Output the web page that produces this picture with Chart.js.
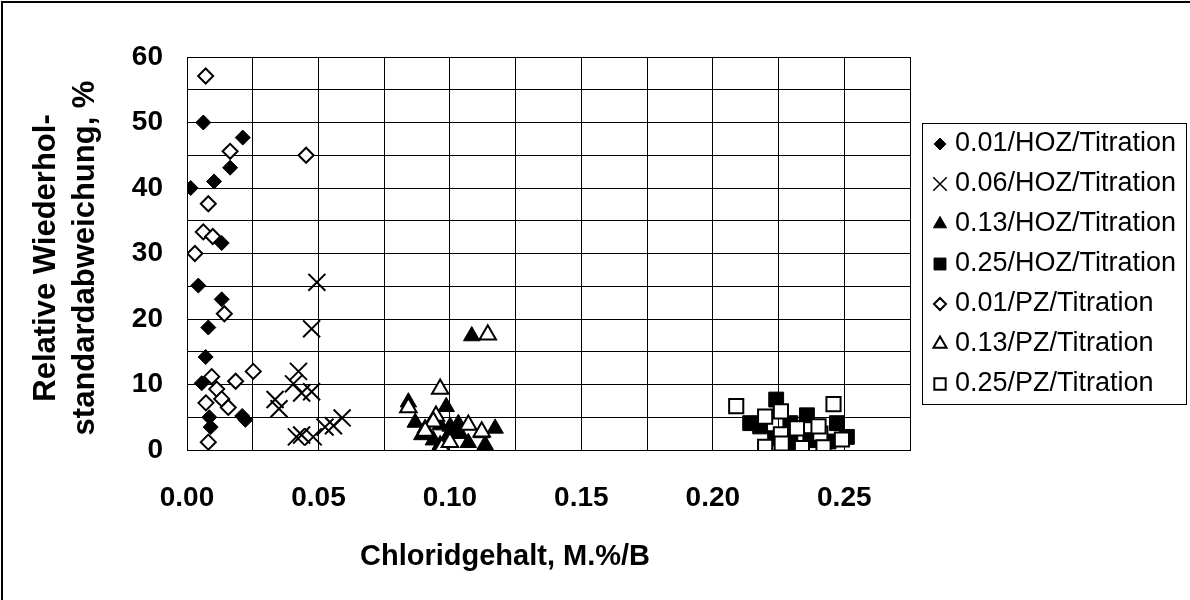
<!DOCTYPE html>
<html>
<head>
<meta charset="utf-8">
<script src="https://cdn.jsdelivr.net/npm/chart.js@4/dist/chart.umd.min.js"></script>
<style>
  html, body { margin: 0; padding: 0; background: #fff; }
  #wrap { width: 1190px; height: 600px; position: relative; }
</style>
</head>
<body>
<div id="wrap"><canvas id="chart" width="1190" height="600"></canvas></div>
<script>
const seriesNames = [
  '0.01/HOZ/Titration', '0.06/HOZ/Titration', '0.13/HOZ/Titration', '0.25/HOZ/Titration',
  '0.01/PZ/Titration', '0.13/PZ/Titration', '0.25/PZ/Titration'
];

const xTickLabels = ['0.00', '0.05', '0.10', '0.15', '0.20', '0.25'];
const yTickLabels = ['0', '10', '20', '30', '40', '50', '60'];

// 0.01/HOZ/Titration
const hoz001X = [0.0014, 0.0062, 0.0212, 0.0164, 0.0103, 0.0132, 0.0043, 0.0132, 0.0081, 0.0071, 0.0056, 0.0085, 0.0090, 0.0210, 0.0222];
const hoz001Y = [40.0, 50.0, 47.7, 43.1, 41.0, 31.6, 25.1, 23.0, 18.7, 14.2, 10.2, 5.0, 3.5, 5.2, 4.6];
// 0.06/HOZ/Titration
const hoz006X = [0.0494, 0.0474, 0.0424, 0.0405, 0.0436, 0.0474, 0.0335, 0.0350, 0.0416, 0.0436, 0.0480, 0.0525, 0.0557, 0.0590];
const hoz006Y = [25.6, 18.5, 12.0, 10.1, 8.7, 8.9, 7.7, 6.3, 2.0, 2.3, 2.0, 3.5, 3.7, 4.9];
// 0.13/HOZ/Titration
const hoz013X = [0.1083, 0.0842, 0.0986, 0.0868, 0.0906, 0.0893, 0.0963, 0.1001, 0.1032, 0.1039, 0.1121, 0.1172, 0.1070, 0.1134, 0.0937, 0.0963, 0.0988, 0.1007];
const hoz013Y = [17.4, 7.3, 6.6, 4.2, 3.3, 2.3, 3.8, 3.6, 4.0, 2.5, 2.6, 3.3, 1.1, 0.8, 1.5, 0.8, 1.8, 2.5];
// 0.25/HOZ/Titration
const hoz025X = [0.2241, 0.2142, 0.2180, 0.2358, 0.2472, 0.2295, 0.2237, 0.2295, 0.2371, 0.2510, 0.2440];
const hoz025Y = [7.7, 4.1, 3.6, 5.3, 4.1, 4.1, 1.8, 1.0, 1.5, 2.0, 1.3];
// 0.01/PZ/Titration
const pz001X = [0.0071, 0.0164, 0.0453, 0.0081, 0.0062, 0.0098, 0.0030, 0.0142, 0.0094, 0.0185, 0.0252, 0.0113, 0.0072, 0.0132, 0.0157, 0.0081];
const pz001Y = [57.1, 45.6, 45.0, 37.6, 33.3, 32.6, 30.0, 20.8, 11.2, 10.5, 12.0, 9.3, 7.2, 7.8, 6.5, 1.2];
// 0.13/PZ/Titration
const pz013X = [0.1144, 0.0963, 0.0842, 0.0947, 0.0937, 0.0906, 0.1070, 0.1121, 0.0969, 0.1000];
const pz013Y = [17.6, 9.3, 6.5, 5.2, 4.3, 2.9, 3.8, 2.8, 0.3, 1.2];
// 0.25/PZ/Titration
const pz025X = [0.2089, 0.2459, 0.2199, 0.2259, 0.2320, 0.2409, 0.2259, 0.2199, 0.2262, 0.2339, 0.2421, 0.2491, 0.2402];
const pz025Y = [6.7, 7.0, 5.1, 5.9, 3.3, 2.5, 2.4, 0.5, 1.0, 0.3, 0.4, 1.6, 3.6];

const pts = (xs, ys) => xs.map((x, i) => ({ x: x, y: ys[i] }));

const markers = [
  { style: 'rectRot', r: 7.5, fill: '#000', bw: 1 },
  { style: 'crossRot', r: 12, fill: '#000', bw: 2 },
  { style: 'triangle', r: 9.5, fill: '#000', bw: 1 },
  { style: 'rect', r: 10.5, fill: '#000', bw: 1 },
  { style: 'rectRot', r: 7.5, fill: '#fff', bw: 2 },
  { style: 'triangle', r: 9.5, fill: '#fff', bw: 2 },
  { style: 'rect', r: 10, fill: '#fff', bw: 2 }
];

const seriesData = [
  pts(hoz001X, hoz001Y), pts(hoz006X, hoz006Y), pts(hoz013X, hoz013Y), pts(hoz025X, hoz025Y),
  pts(pz001X, pz001Y), pts(pz013X, pz013Y), pts(pz025X, pz025Y)
];

const datasets = seriesNames.map((name, i) => ({
  label: name,
  data: seriesData[i],
  pointStyle: markers[i].style,
  pointRadius: markers[i].r,
  pointHoverRadius: markers[i].r,
  pointBorderWidth: markers[i].bw,
  pointBackgroundColor: markers[i].fill,
  pointBorderColor: '#000',
  order: seriesNames.length - i
}));

const FONT = '"Liberation Sans", Arial, sans-serif';

function drawMarker(ctx, m, x, y, k) {
  const r = m.r * k;
  ctx.save();
  ctx.fillStyle = m.fill;
  ctx.strokeStyle = '#000';
  ctx.lineWidth = m.style === 'crossRot' ? 1.5 : m.bw;
  ctx.beginPath();
  if (m.style === 'rectRot') {
    ctx.moveTo(x - r, y); ctx.lineTo(x, y - r); ctx.lineTo(x + r, y); ctx.lineTo(x, y + r); ctx.closePath();
    ctx.fill(); ctx.stroke();
  } else if (m.style === 'crossRot') {
    const o = r * Math.SQRT1_2;
    ctx.moveTo(x - o, y - o); ctx.lineTo(x + o, y + o);
    ctx.moveTo(x + o, y - o); ctx.lineTo(x - o, y + o);
    ctx.stroke();
  } else if (m.style === 'triangle') {
    const h = r * Math.sqrt(3) / 2;
    ctx.moveTo(x, y - r); ctx.lineTo(x + h, y + r / 2); ctx.lineTo(x - h, y + r / 2); ctx.closePath();
    ctx.fill(); ctx.stroke();
  } else {
    const s = r * Math.SQRT1_2;
    ctx.rect(x - s, y - s, 2 * s, 2 * s);
    ctx.fill(); ctx.stroke();
  }
  ctx.restore();
}

const decorPlugin = {
  id: 'decor',
  afterDraw(chart) {
    const ctx = chart.ctx;
    ctx.save();
    // outer frame
    ctx.strokeStyle = '#000';
    ctx.lineWidth = 2;
    ctx.beginPath();
    ctx.moveTo(2, 600); ctx.lineTo(2, 2); ctx.lineTo(1190, 2);
    ctx.stroke();

    // axis titles
    ctx.fillStyle = '#000';
    ctx.font = 'bold 29px ' + FONT;
    ctx.textAlign = 'center';
    ctx.textBaseline = 'middle';
    ctx.fillText('Chloridgehalt, M.%/B', 505, 557);

    ctx.save();
    ctx.font = 'bold 31px ' + FONT;
    ctx.translate(0, 258);
    ctx.rotate(-Math.PI / 2);
    ctx.fillText('Relative Wiederhol-', 0, 46);
    ctx.fillText('standardabweichung, %', 0, 85);
    ctx.restore();

    // legend
    ctx.lineWidth = 1;
    ctx.strokeRect(922.5, 123.5, 264, 281);
    ctx.font = '27px ' + FONT;
    ctx.textAlign = 'left';
    seriesNames.forEach((name, i) => {
      const y = 144 + i * 40;
      drawMarker(ctx, markers[i], 940, y, 0.8);
      ctx.fillStyle = '#000';
      ctx.fillText(name, 955, y);
    });
    ctx.restore();
  }
};

new Chart(document.getElementById('chart'), {
  type: 'scatter',
  data: { datasets: datasets },
  options: {
    responsive: false,
    animation: false,
    devicePixelRatio: 1,
    layout: { padding: { left: 0, top: 57, right: 280, bottom: 0 } },
    plugins: {
      legend: { display: false },
      tooltip: { enabled: false },
      title: { display: false }
    },
    scales: {
      x: {
        type: 'linear',
        min: 0,
        max: 0.275,
        afterFit: (s) => { s.height = 150; },
        ticks: {
          stepSize: 0.025,
          padding: 31,
          color: '#000',
          font: { family: FONT, size: 28, weight: 'bold' },
          maxRotation: 0,
          autoSkip: false,
          callback: (v, i) => (i % 2 === 0 ? xTickLabels[i / 2] : '')
        },
        grid: { color: '#000', lineWidth: 1, drawTicks: false },
        border: { color: '#000', width: 1 }
      },
      y: {
        type: 'linear',
        min: 0,
        max: 60,
        afterFit: (s) => { s.width = 187; },
        ticks: {
          stepSize: 5,
          padding: 24,
          color: '#000',
          font: { family: FONT, size: 28, weight: 'bold' },
          autoSkip: false,
          callback: (v, i) => (i % 2 === 0 ? yTickLabels[i / 2] : '')
        },
        grid: { color: '#000', lineWidth: 1, drawTicks: false },
        border: { color: '#000', width: 1 }
      }
    }
  },
  plugins: [decorPlugin]
});
</script>
</body>
</html>
